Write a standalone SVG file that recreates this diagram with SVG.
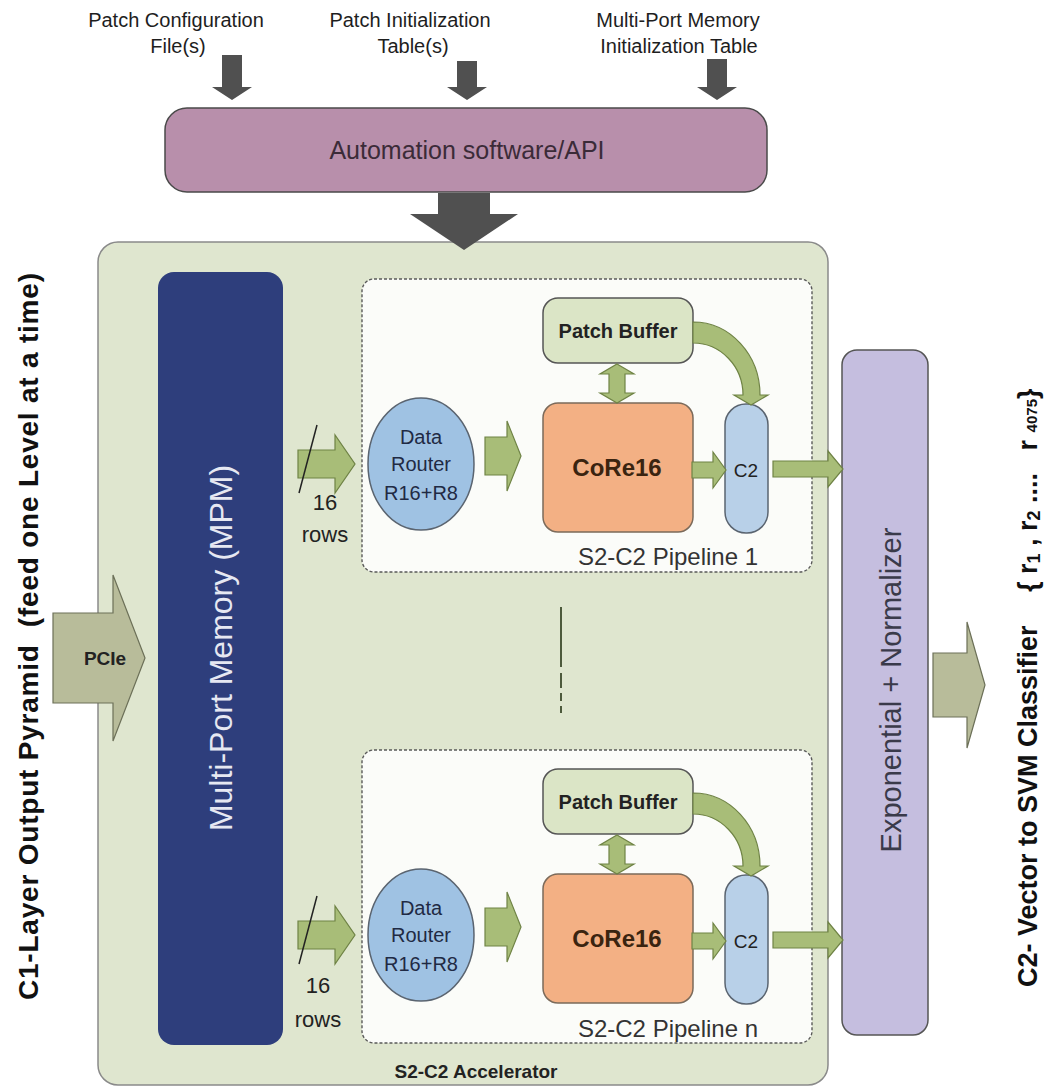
<svg xmlns="http://www.w3.org/2000/svg" width="1047" height="1091" viewBox="0 0 1047 1091">
<defs>
<style>
text{font-family:"Liberation Sans",Arial,sans-serif}
.top{font-size:20px;fill:#1e1e1e;text-anchor:middle}
.dark{fill:#505050}
.green{fill:#a8bd78;stroke:#6f8345;stroke-width:1.2}
.olive{fill:#b8bc9a;stroke:#6c7058;stroke-width:1.2}
.pipe{fill:#fbfcf9;stroke:#5a5a5a;stroke-width:1.4;stroke-dasharray:3 2}
.pb{fill:#dbe5c6;stroke:#555;stroke-width:1.5}
.core{fill:#f3b084;stroke:#7b6a5a;stroke-width:1.5}
.c2{fill:#b8d0e8;stroke:#5a6470;stroke-width:1.5}
.router{fill:#9fc2e3;stroke:#5a6470;stroke-width:1.5}
.mid{text-anchor:middle}
</style>
</defs>
<rect width="1047" height="1091" fill="#ffffff"/>

<g id="input-labels">
<text class="top" x="176" y="27">Patch Configuration</text>
<text class="top" x="178" y="53">File(s)</text>
<text class="top" x="410" y="27">Patch Initialization</text>
<text class="top" x="413" y="53">Table(s)</text>
<text class="top" x="678" y="27">Multi-Port Memory</text>
<text class="top" x="679" y="53">Initialization Table</text>
</g>

<g id="automation">
<rect x="165" y="108" width="602" height="84" rx="22" fill="#b88fab" stroke="#4a4a4a" stroke-width="1.5"/>
<text class="mid" x="467" y="159" font-size="25" fill="#3b2b38">Automation software/API</text>
</g>

<g id="left-label">
<text transform="translate(38,1000) rotate(-90)" font-size="28" font-weight="bold" fill="#111" textLength="727" xml:space="preserve">C1-Layer Output Pyramid  (feed one Level at a time)</text>
</g>

<g id="accelerator">
<rect x="98" y="242" width="730" height="843" rx="20" fill="#dfe6cf" stroke="#8a8a8a" stroke-width="1.5"/>
<text class="mid" x="476" y="1078" font-size="19" font-weight="bold" fill="#222">S2-C2 Accelerator</text>
</g>

<g id="mpm">
<rect x="158" y="272" width="125" height="773" rx="16" fill="#2e3e7c"/>
<text class="mid" transform="translate(232,648) rotate(-90)" font-size="32" fill="#e6e8f2">Multi-Port Memory (MPM)</text>
</g>

<g id="pipeline-1">
<rect class="pipe" x="362" y="279" width="450" height="293" rx="12"/>
<g id="patch-buffer-1">
<rect class="pb" x="543" y="298" width="150" height="65" rx="15"/>
<text class="mid" x="618" y="338" font-size="20" font-weight="bold" fill="#222">Patch Buffer</text>
</g>
<g id="core16-1">
<rect class="core" x="543" y="403" width="150" height="129" rx="15"/>
<text class="mid" x="617" y="476" font-size="24" font-weight="bold" fill="#3a2410">CoRe16</text>
</g>
<g id="c2-1">
<rect class="c2" x="725" y="404" width="43" height="129" rx="21"/>
<text class="mid" x="746" y="477" font-size="19" fill="#222">C2</text>
</g>
<g id="router-1">
<ellipse class="router" cx="421" cy="464" rx="53" ry="66"/>
<text class="mid" x="421" y="444" font-size="20" fill="#1f2a44">Data</text>
<text class="mid" x="421" y="471" font-size="20" fill="#1f2a44">Router</text>
<text class="mid" x="421" y="500" font-size="20" fill="#1f2a44">R16+R8</text>
</g>
<text class="mid" x="668" y="565" font-size="24" fill="#333">S2-C2 Pipeline 1</text>
</g>

<g id="pipeline-n">
<rect class="pipe" x="362" y="750" width="450" height="293" rx="12"/>
<g id="patch-buffer-n">
<rect class="pb" x="543" y="769" width="150" height="65" rx="15"/>
<text class="mid" x="618" y="809" font-size="20" font-weight="bold" fill="#222">Patch Buffer</text>
</g>
<g id="core16-n">
<rect class="core" x="543" y="874" width="150" height="129" rx="15"/>
<text class="mid" x="617" y="947" font-size="24" font-weight="bold" fill="#3a2410">CoRe16</text>
</g>
<g id="c2-n">
<rect class="c2" x="725" y="875" width="43" height="129" rx="21"/>
<text class="mid" x="746" y="948" font-size="19" fill="#222">C2</text>
</g>
<g id="router-n">
<ellipse class="router" cx="421" cy="935" rx="53" ry="66"/>
<text class="mid" x="421" y="915" font-size="20" fill="#1f2a44">Data</text>
<text class="mid" x="421" y="942" font-size="20" fill="#1f2a44">Router</text>
<text class="mid" x="421" y="971" font-size="20" fill="#1f2a44">R16+R8</text>
</g>
<text class="mid" x="668" y="1037" font-size="24" fill="#333">S2-C2 Pipeline n</text>
</g>

<g id="exp-normalizer">
<rect x="842" y="350" width="86" height="685" rx="15" fill="#c5bedf" stroke="#555" stroke-width="1.5"/>
<text class="mid" transform="translate(901,690) rotate(-90)" font-size="29" fill="#3a3a4a">Exponential + Normalizer</text>
</g>

<g id="right-label">
<text transform="translate(1037,987) rotate(-90)" font-size="27" font-weight="bold" fill="#111" xml:space="preserve">C2- Vector to SVM Classifier<tspan x="395">{ r<tspan font-size="18" dy="3">1</tspan><tspan dy="-3"> , r</tspan><tspan font-size="18" dy="3">2</tspan><tspan dy="-3"> ....   r </tspan><tspan font-size="15">4075</tspan>}</tspan></text>
</g>

<g id="connectors">
<polygon class="dark" points="222,55 242,55 242,87 252,87 232,100 212,87 222,87"/>
<polygon class="dark" points="457,61 477,61 477,87 487,87 467,100 447,87 457,87"/>
<polygon class="dark" points="707,59 727,59 727,87 737,87 717,100 697,87 707,87"/>
<polygon class="dark" points="438,193 490,193 490,214 518,214 464,250 410,214 438,214"/>
<polygon class="olive" points="53,613 113,613 113,575 145,658 113,741 113,703 53,703"/>
<text class="mid" x="105" y="665" font-size="19" font-weight="bold" fill="#222">PCIe</text>
<polygon class="olive" points="933,653 967,653 967,622 985,685 967,748 967,717 933,717"/>

<g id="conn-p1">
<polygon class="green" points="298,450 335,450 335,435 355,464 335,493 335,478 298,478"/>
<line x1="317" y1="425" x2="299" y2="493" stroke="#222" stroke-width="1.5"/>
<text class="mid" x="325" y="510" font-size="22" fill="#222">16</text>
<text class="mid" x="325" y="542" font-size="22" fill="#222">rows</text>
<polygon class="green" points="485,437 507,437 507,421 521,456 507,491 507,475 485,475"/>
<polygon class="green" points="692,462 713,462 713,452 726,470 713,488 713,478 692,478"/>
<polygon class="green" points="773,461 828,461 828,451 843,469 828,487 828,477 773,477"/>
<polygon class="green" points="617,364 634,374 625,374 625,393 634,393 617,403 600,393 609,393 609,374 600,374"/>
<path class="green" d="M693 322 A67 73 0 0 1 760 395 L768 395 L751 405 L734 395 L743 395 A50 52 0 0 0 693 343 Z"/>
</g>

<g id="conn-pn">
<polygon class="green" points="298,921 335,921 335,906 355,935 335,964 335,949 298,949"/>
<line x1="317" y1="896" x2="299" y2="964" stroke="#222" stroke-width="1.5"/>
<text class="mid" x="318" y="993" font-size="22" fill="#222">16</text>
<text class="mid" x="318" y="1027" font-size="22" fill="#222">rows</text>
<polygon class="green" points="485,908 507,908 507,892 521,927 507,962 507,946 485,946"/>
<polygon class="green" points="692,933 713,933 713,923 726,941 713,959 713,949 692,949"/>
<polygon class="green" points="773,932 828,932 828,922 843,940 828,958 828,948 773,948"/>
<polygon class="green" points="617,835 634,845 625,845 625,864 634,864 617,874 600,864 609,864 609,845 600,845"/>
<path class="green" d="M693 793 A67 73 0 0 1 760 866 L768 866 L751 876 L734 866 L743 866 A50 52 0 0 0 693 814 Z"/>
</g>

<g id="ellipsis" stroke="#4d5a3c" stroke-width="2">
<line x1="561" y1="607" x2="561" y2="667"/>
<line x1="561" y1="673" x2="561" y2="688"/>
<line x1="561" y1="693" x2="561" y2="701"/>
<line x1="561" y1="706" x2="561" y2="713"/>
</g>
</g>
</svg>
